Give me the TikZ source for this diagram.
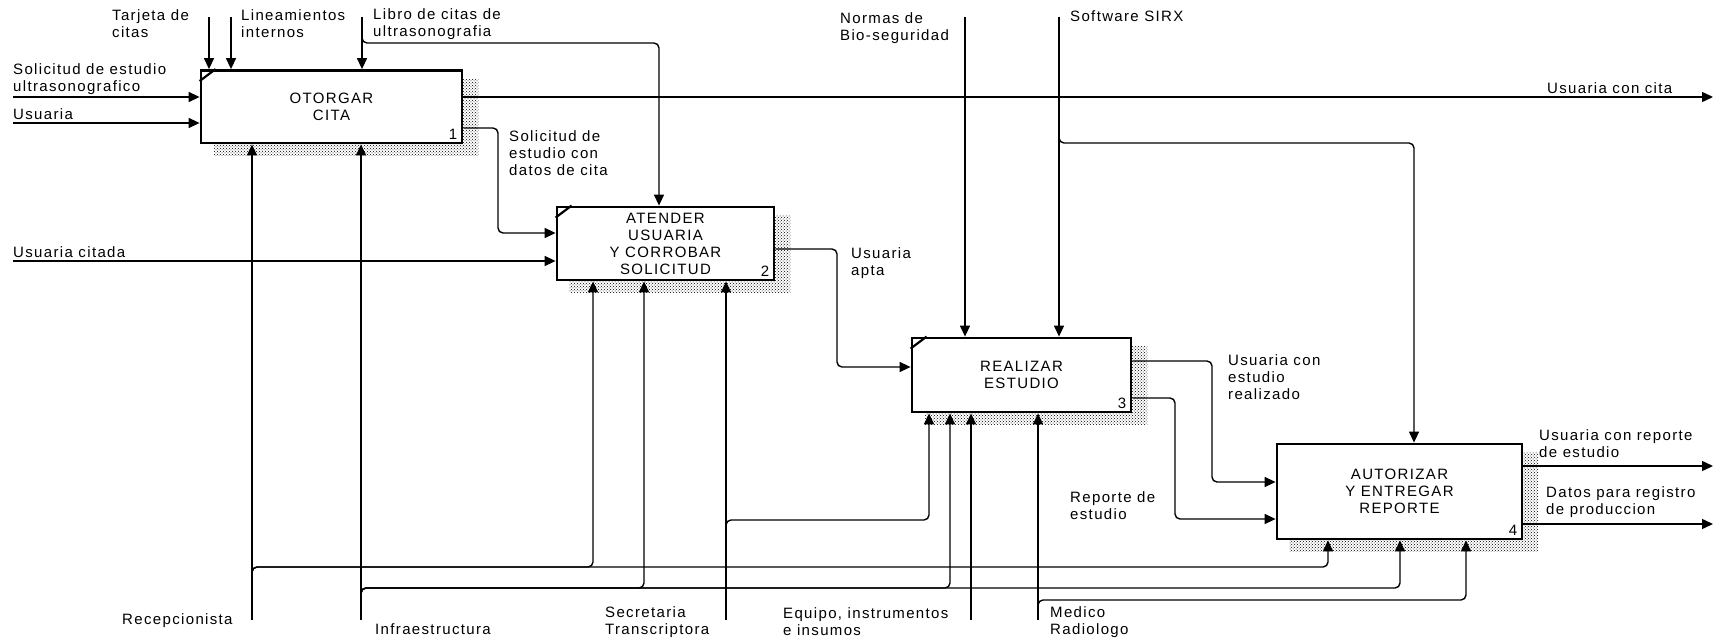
\documentclass[tikz,border=0pt]{standalone}
\usepackage{fontspec}
\newfontfamily\idefface{Liberation Sans}[LetterSpace=9]
\newcommand\ideffont{\idefface\fontsize{15}{17}\selectfont}
\usetikzlibrary{arrows.meta, calc, patterns, backgrounds}

\begin{document}
\begin{tikzpicture}[
    x=1pt, y=-1pt,
    proc/.style={
        rectangle, draw, line width=2.8pt, fill=white, inner sep=0pt,
        font=\ideffont, align=center
    },
    lbl/.style={font=\ideffont, align=left, inner sep=0pt, anchor=west},
    num/.style={font=\ideffont, inner sep=0pt, anchor=base east},
    arr/.style={-{Triangle[length=11pt, width=10pt]}, line width=1.4pt},
    feed/.style={arr, rounded corners=5pt},
    cornermark/.style={line width=2.2pt},
    shade/.style={pattern=crosshatch dots, pattern color=black},
]

% Frame
\path[use as bounding box] (0,0) rectangle (1716,639);

% Activity boxes
\node[proc, minimum width=261pt, minimum height=72.5pt] (b1) at (331.5,106.75) {OTORGAR\\CITA};
\node[proc, minimum width=217pt, minimum height=73pt] (b2) at (665.5,243.5) {ATENDER\\USUARIA\\Y CORROBAR\\SOLICITUD};
\node[proc, minimum width=219pt, minimum height=74pt] (b3) at (1021.5,375) {REALIZAR\\ESTUDIO};
\node[proc, minimum width=245pt, minimum height=95pt] (b4) at (1399.5,491.5) {AUTORIZAR\\Y ENTREGAR\\REPORTE};

% Box numbers
\node[num] (n1) at ($(b1.south east)+(-6,-5)$) {1};
\node[num] (n2) at ($(b2.south east)+(-6,-5)$) {2};
\node[num] (n3) at ($(b3.south east)+(-6,-5)$) {3};
\node[num] (n4) at ($(b4.south east)+(-6,-5)$) {4};

% Corner marks
\foreach \b in {b1,b2,b3}
    \draw[cornermark] ($(\b.north west)+(0,12)$) -- ($(\b.north west)+(16,0)$);

% Shadows
\begin{pgfonlayer}{background}
\fill[white] (0,0) rectangle (1716,639);
\foreach \b in {b1,b2,b3,b4}
    \fill[shade] ($(\b.north west)+(14,10)$) rectangle ($(\b.south east)+(15,11)$);
\end{pgfonlayer}

% Free ends
\coordinate (inSol) at (13,97);
\coordinate (inUsu) at (13,123);
\coordinate (inCit) at (13,261);
\coordinate (cTar) at (209,17);
\coordinate (cLin) at (231,17);
\coordinate (cLib) at (362,17);
\coordinate (cNor) at (965,17);
\coordinate (cSof) at (1059,17);
\coordinate (oCita) at (1713,97);
\coordinate (oRep) at (1713,466);
\coordinate (oDat) at (1713,524);
\coordinate (mRec) at (252,620);
\coordinate (mInf) at (361,620);
\coordinate (mSec) at (726,620);
\coordinate (mEqu) at (971,620);
\coordinate (mMed) at (1038,620);

% Routing points
\coordinate (ctl2) at (659,43);
\coordinate (ctl4) at (1414,143);
\coordinate (r12) at (498,128);
\coordinate (t12) at (498,233);
\coordinate (r23) at (837,249);
\coordinate (t23) at (837,367);
\coordinate (r34a) at (1212,361);
\coordinate (t34a) at (1212,482);
\coordinate (r34b) at (1175,398);
\coordinate (t34b) at (1175,519);
\coordinate (hRec) at (252,567);
\coordinate (rec2) at (593,567);
\coordinate (rec4) at (1328,567);
\coordinate (hInf) at (361,588);
\coordinate (inf2) at (644,588);
\coordinate (inf3) at (950,588);
\coordinate (inf4) at (1400,588);
\coordinate (hSec) at (726,520);
\coordinate (sec3) at (929,520);
\coordinate (hMed) at (1038,600);
\coordinate (med4) at (1466,600);

% Inputs
\draw[arr] (inSol) -- (inSol -| b1.west);
\draw[arr] (inUsu) -- (inUsu -| b1.west);
\draw[arr] (inCit) -- (inCit -| b2.west);
\draw[feed] (b1.east |- r12) -- (r12) -- (t12) -- (t12 -| b2.west);
\draw[feed] (b2.east |- r23) -- (r23) -- (t23) -- (t23 -| b3.west);
\draw[feed] (b3.east |- r34a) -- (r34a) -- (t34a) -- (t34a -| b4.west);
\draw[feed] (b3.east |- r34b) -- (r34b) -- (t34b) -- (t34b -| b4.west);

% Controls
\draw[arr] (cTar) -- (cTar |- b1.north);
\draw[arr] (cLin) -- (cLin |- b1.north);
\draw[arr] (cLib) -- (cLib |- b1.north);
\draw[feed] ($(cLib)+(0,19)$) |- (ctl2) -- (ctl2 |- b2.north);
\draw[arr] (cNor) -- (cNor |- b3.north);
\draw[arr] (cSof) -- (cSof |- b3.north);
\draw[feed] ($(cSof)+(0,121)$) |- (ctl4) -- (ctl4 |- b4.north);

% Outputs
\draw[arr] (b1.east |- oCita) -- (oCita);
\draw[arr] (b4.east |- oRep) -- (oRep);
\draw[arr] (b4.east |- oDat) -- (oDat);

% Mechanisms
\draw[arr] (mRec) -- (mRec |- b1.south);
\draw[feed] ($(hRec)+(0,8)$) -- (hRec) -- (rec2) -- (rec2 |- b2.south);
\draw[feed] ($(hRec)+(0,8)$) -- (hRec) -- (rec4) -- (rec4 |- b4.south);
\draw[arr] (mInf) -- (mInf |- b1.south);
\draw[feed] ($(hInf)+(0,8)$) -- (hInf) -- (inf2) -- (inf2 |- b2.south);
\draw[feed] ($(hInf)+(0,8)$) -- (hInf) -- (inf3) -- (inf3 |- b3.south);
\draw[feed] ($(hInf)+(0,8)$) -- (hInf) -- (inf4) -- (inf4 |- b4.south);
\draw[arr] (mSec) -- (mSec |- b2.south);
\draw[feed] ($(hSec)+(0,8)$) -- (hSec) -- (sec3) -- (sec3 |- b3.south);
\draw[arr] (mEqu) -- (mEqu |- b3.south);
\draw[arr] (mMed) -- (mMed |- b3.south);
\draw[feed] ($(hMed)+(0,8)$) -- (hMed) -- (med4) -- (med4 |- b4.south);

% Labels
\node[lbl] (lSol) at (13,79) {Solicitud de estudio\\ultrasonografico};
\node[lbl] (lUsu) at (13,114) {Usuaria};
\node[lbl] (lCit) at (13,252) {Usuaria citada};
\node[lbl] (lTar) at (112,24) {Tarjeta de\\citas};
\node[lbl] (lLin) at (241,24) {Lineamientos\\internos};
\node[lbl] (lLib) at (373,24) {Libro de citas de\\ultrasonografia};
\node[lbl] (l12) at (509,153) {Solicitud de\\estudio con\\datos de cita};
\node[lbl] (lCita) at (1547,88) {Usuaria con cita};
\node[lbl] (lNor) at (840,28.5) {Normas de\\Bio-seguridad};
\node[lbl] (lSof) at (1070,16) {Software SIRX};
\node[lbl] (l23) at (851,263) {Usuaria\\apta};
\node[lbl] (l34a) at (1228,377) {Usuaria con\\estudio\\realizado};
\node[lbl] (l34b) at (1070,506) {Reporte de\\estudio};
\node[lbl] (lRep) at (1539,443.5) {Usuaria con reporte\\de estudio};
\node[lbl] (lDat) at (1546,502) {Datos para registro\\de produccion};
\node[lbl] (lRec) at (122,621) {Recepcionista};
\node[lbl] (lInf) at (375,629) {Infraestructura};
\node[lbl] (lSec) at (605,622) {Secretaria\\Transcriptora};
\node[lbl] (lEqu) at (783,622) {Equipo, instrumentos\\e insumos};
\node[lbl] (lMed) at (1050,622) {Medico\\Radiologo};

\end{tikzpicture}
\end{document}
